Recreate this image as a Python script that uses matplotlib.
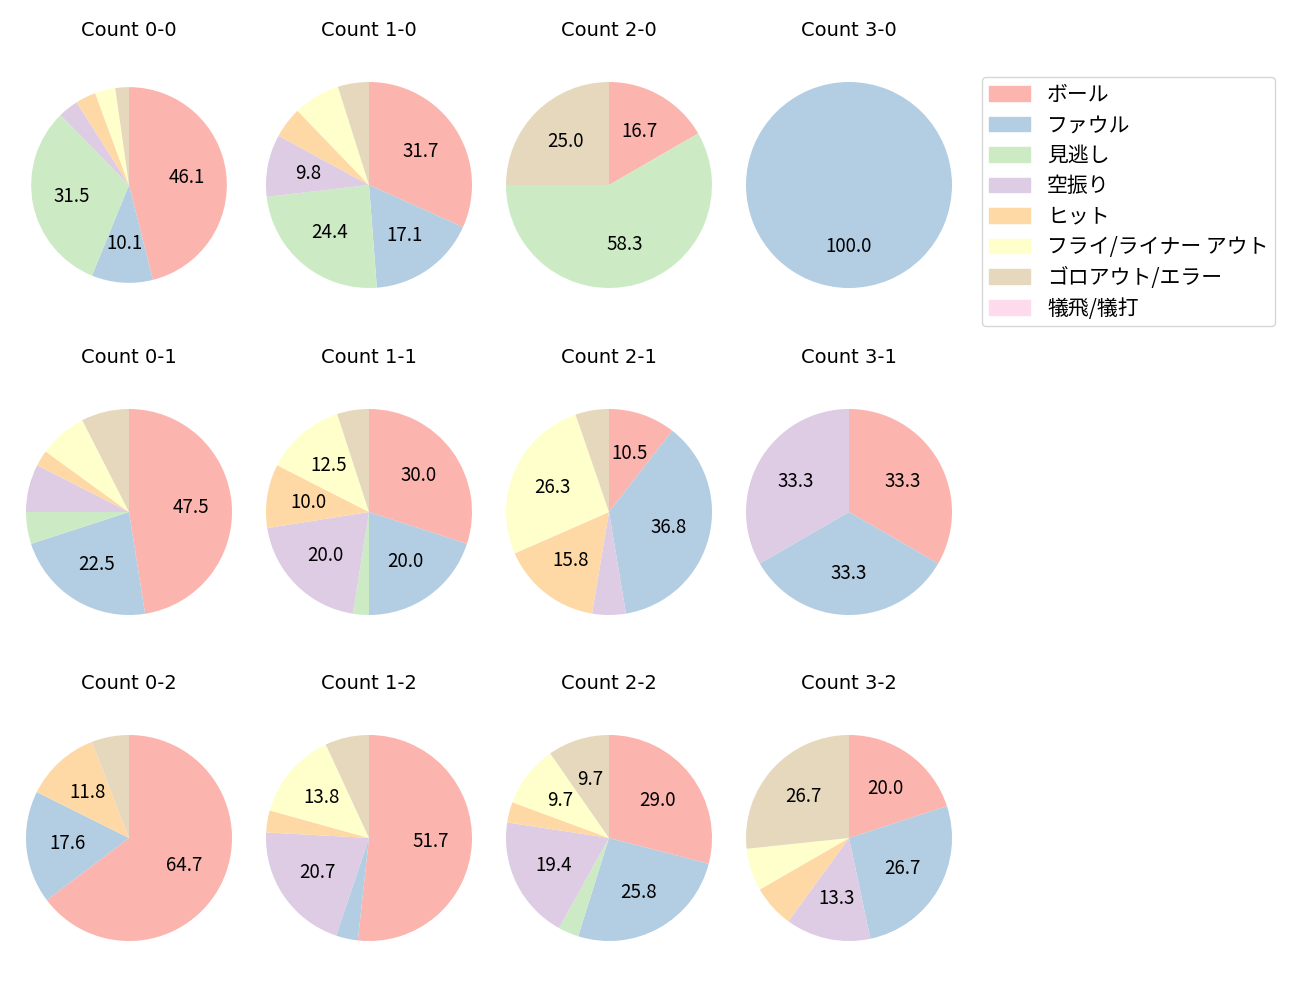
import matplotlib
matplotlib.use('Agg')
import matplotlib.pyplot as plt

plt.rcParams['font.family'] = ['Noto Sans CJK JP', 'DejaVu Sans']

categories = ['ボール', 'ファウル', '見逃し', '空振り', 'ヒット',
              'フライ/ライナー アウト', 'ゴロアウト/エラー', '犠飛/犠打']
colors = ['#fbb4ae', '#b3cde3', '#ccebc5', '#decbe4', '#fed9a6',
          '#ffffcc', '#e5d8bd', '#fddaec']

# pitch counts per ball-strike count, in category order
counts = {
    '0-0': [41, 9, 28, 3, 3, 3, 2, 0],
    '1-0': [13, 7, 10, 4, 2, 3, 2, 0],
    '2-0': [2, 0, 7, 0, 0, 0, 3, 0],
    '3-0': [0, 1, 0, 0, 0, 0, 0, 0],
    '0-1': [19, 9, 2, 3, 1, 3, 3, 0],
    '1-1': [12, 8, 1, 8, 4, 5, 2, 0],
    '2-1': [2, 7, 0, 1, 3, 5, 1, 0],
    '3-1': [1, 1, 0, 1, 0, 0, 0, 0],
    '0-2': [11, 3, 0, 0, 2, 0, 1, 0],
    '1-2': [15, 1, 0, 6, 1, 4, 2, 0],
    '2-2': [9, 8, 1, 6, 1, 3, 3, 0],
    '3-2': [3, 4, 0, 2, 1, 1, 4, 0],
}
strikes = [0, 1, 2]
balls = [0, 1, 2, 3]

W, H = 1300, 1000
fig = plt.figure(figsize=(13, 10), dpi=100)

col_x = [129, 369, 609, 849]
row_y = [185, 512, 838]
r_px = 103
size = 2.5 * r_px

for i, s in enumerate(strikes):
    for j, b in enumerate(balls):
        key = f'{b}-{s}'
        cx, cy = col_x[j], row_y[i]
        ax = fig.add_axes([(cx - size / 2) / W, 1 - (cy + size / 2) / H, size / W, size / H])
        rad = 0.95 if key == '0-0' else 1.0
        ax.pie(counts[key], colors=colors, startangle=90, counterclock=False,
               radius=rad,
               autopct=lambda p: f'{p:.1f}' if p >= 9 else '',
               textprops={'fontsize': 13.5})
        ax.set_xlim(-1.25, 1.25)
        ax.set_ylim(-1.25, 1.25)
        ax.set_title(f'Count {key}', fontsize=14, pad=14.5,
                     family=['DejaVu Sans', 'Noto Sans CJK JP'])

leg_patches = [plt.Rectangle((0, 0), 1, 1, color=c) for c in colors]
fig.legend(leg_patches, categories, loc='upper left',
           bbox_to_anchor=(982 / W, 1 - 77 / H), borderaxespad=0,
           fontsize=15, handlelength=2.0, handletextpad=0.8,
           labelspacing=0.41, borderpad=0.32)

fig.savefig('out.png', dpi=100)
